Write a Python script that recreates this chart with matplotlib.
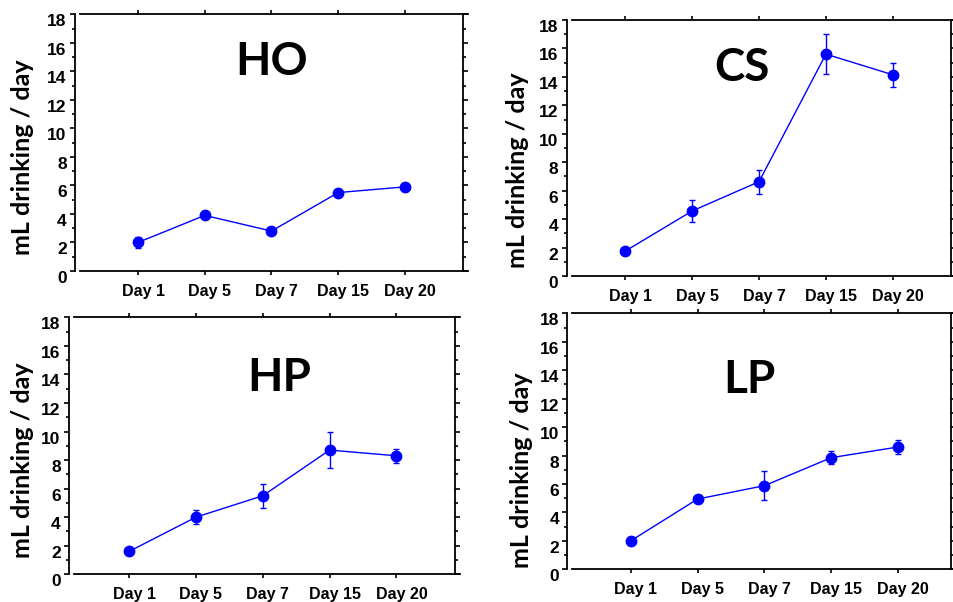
import numpy as np
import matplotlib
matplotlib.use("Agg")
import matplotlib.pyplot as plt
import matplotlib.transforms as mtransforms

days = ["Day 1", "Day 5", "Day 7", "Day 15", "Day 20"]
groups = ["HO", "CS", "HP", "LP"]

ho_mean = [2.0, 3.9, 2.8, 5.5, 5.9]
ho_err = [0.4, 0.15, 0.15, 0.15, 0.2]
cs_mean = [1.75, 4.57, 6.63, 15.6, 14.15]
cs_err = [0.15, 0.75, 0.83, 1.4, 0.86]
hp_mean = [1.6, 4.0, 5.5, 8.7, 8.3]
hp_err = [0.1, 0.5, 0.83, 1.27, 0.5]
lp_mean = [2.0, 4.94, 5.88, 7.85, 8.6]
lp_err = [0.15, 0.2, 1.0, 0.45, 0.5]

means = [ho_mean, cs_mean, hp_mean, lp_mean]
errs = [ho_err, cs_err, hp_err, lp_err]

W, H = 954, 602
# axes boxes in pixels: left, right, top, bottom
boxes = [(80, 468, 14.3, 271), (571.7, 955.7, 20, 276),
         (74, 460, 317.3, 574.3), (572.3, 956.3, 313.3, 569.3)]
xlims = [(0.131, 5.944), (0.20, 5.94), (0.177, 5.95), (0.126, 5.87)]
title_pos = [(0.495, 0.764), (0.443, 0.762), (0.531, 0.714), (0.46, 0.689)]
ylab_pos = [(-0.148, 0.442), (-0.141, 0.414), (-0.133, 0.443), (-0.132, 0.388)]

fig = plt.figure(figsize=(W / 100, H / 100), dpi=100)
x = np.arange(1, 6)

for i in range(4):
    l, r, t, b = boxes[i]
    ax = fig.add_axes([l / W, 1 - b / H, (r - l) / W, (b - t) / H])
    ax.errorbar(x, means[i], yerr=errs[i], color="#0000ff", marker="o",
                markersize=7.5, lw=1.0, elinewidth=1.0, capsize=2.2, capthick=1.0)
    ax.set_xlim(*xlims[i])
    ax.set_ylim(0, 18)
    ax.set_yticks(np.arange(0, 19, 2))
    ax.set_yticks(np.arange(1, 18, 2), minor=True)
    ax.set_xticks(x)
    ax.set_xticklabels(days)
    for s in ax.spines.values():
        s.set_linewidth(1.3)
    ax.spines["left"].set_position(("outward", 3.6))
    ax.spines["right"].set_position(("outward", -3.6))
    ax.tick_params(axis="y", which="major", direction="out", length=3.5, width=1.2,
                   right=True, labelsize=12.5, pad=2.5)
    ax.tick_params(axis="y", which="minor", direction="out", length=2, width=1.2, right=True)
    ax.tick_params(axis="x", direction="out", length=3, width=1.2, top=True,
                   labelsize=11.5, pad=6.5)
    for lab in ax.get_yticklabels():
        lab.set_fontweight("bold")
        lab.set_fontfamily("Liberation Sans")
        lab.set_transform(lab.get_transform() + mtransforms.ScaledTranslation(0, -0.06, fig.dpi_scale_trans))
    for lab in ax.get_xticklabels():
        lab.set_fontweight("bold")
        lab.set_fontfamily("Liberation Sans")
        lab.set_transform(lab.get_transform() + mtransforms.ScaledTranslation(0.05, 0, fig.dpi_scale_trans))
    ax.text(title_pos[i][0], title_pos[i][1], groups[i], transform=ax.transAxes,
            ha="center", va="baseline", fontsize=33, fontweight="bold", family="Lato")
    ax.text(ylab_pos[i][0], ylab_pos[i][1], "mL drinking / day", transform=ax.transAxes,
            rotation=90, ha="center", va="center", fontsize=18, fontweight="bold", family="Lato")

fig.savefig("out.png", dpi=100)
